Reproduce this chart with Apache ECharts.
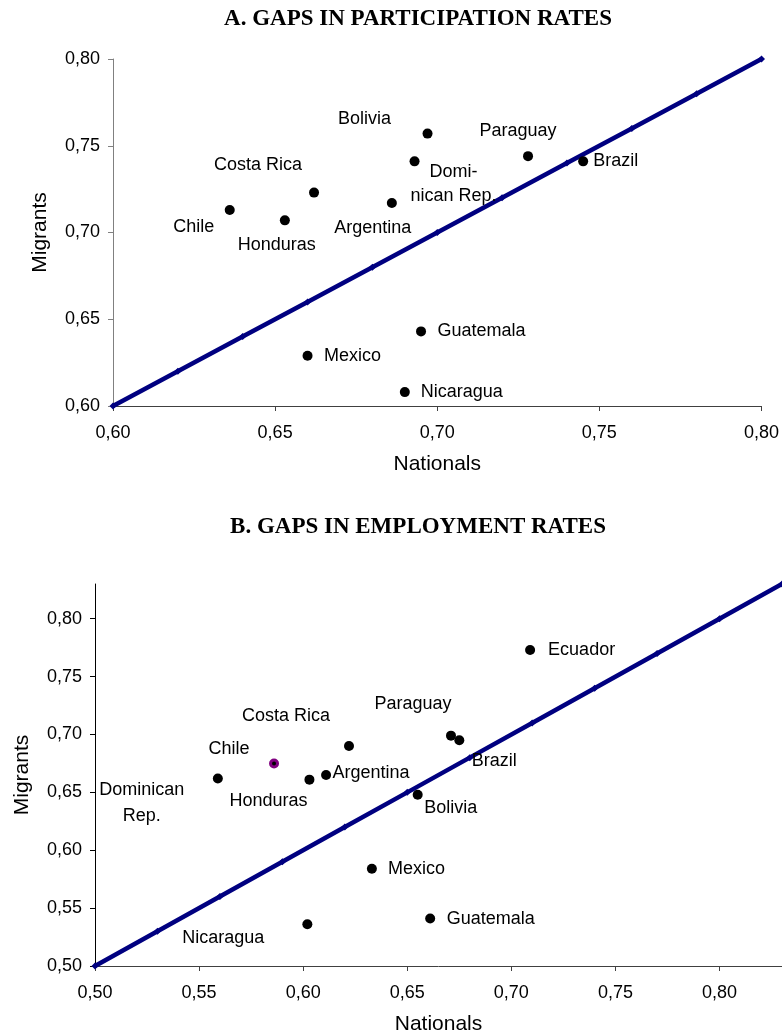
<!DOCTYPE html>
<html><head><meta charset="utf-8">
<script src="https://cdn.jsdelivr.net/npm/echarts@6/dist/echarts.min.js"></script>
<style>html,body{margin:0;padding:0;background:#fff;overflow:hidden}#c{width:782px;height:1036px}</style>
</head><body><div id="c"></div>
<script>
// ---------- Panel A data ----------
const titleA = 'A. GAPS IN PARTICIPATION RATES';
const countriesA = ['Bolivia','Dominican Rep.','Paraguay','Brazil','Costa Rica','Argentina','Chile','Honduras','Guatemala','Mexico','Nicaragua'];
const labelsA    = ['Bolivia','Domi-\nnican Rep.','Paraguay','Brazil','Costa Rica','Argentina','Chile','Honduras','Guatemala','Mexico','Nicaragua'];
const nationalsA = [0.697,0.693,0.728,0.745,0.662,0.686,0.636,0.653,0.695,0.660,0.690];
const migrantsA  = [0.757,0.741,0.744,0.741,0.723,0.717,0.713,0.707,0.643,0.629,0.608];
const diagonalA  = [0.60,0.62,0.64,0.66,0.68,0.70,0.72,0.74,0.76,0.78,0.80];
const ticksA     = [0.60,0.65,0.70,0.75,0.80];

// ---------- Panel B data ----------
const titleB = 'B. GAPS IN EMPLOYMENT RATES';
const countriesB = ['Ecuador','Paraguay','Brazil','Costa Rica','Chile','Argentina','Honduras','Dominican Rep.','Bolivia','Mexico','Guatemala','Nicaragua'];
const labelsB    = ['Ecuador','Paraguay','Brazil','Costa Rica','Chile','Argentina','Honduras','Dominican\nRep.','Bolivia','Mexico','Guatemala','Nicaragua'];
const nationalsB = [0.709,0.671,0.675,0.622,0.586,0.611,0.603,0.559,0.655,0.633,0.661,0.602];
const migrantsB  = [0.773,0.699,0.695,0.690,0.675,0.665,0.661,0.662,0.648,0.584,0.541,0.536];
const diagonalB  = [0.50,0.53,0.56,0.59,0.62,0.65,0.68,0.71,0.74,0.77,0.80,0.83];
const ticksB     = [0.50,0.55,0.60,0.65,0.70,0.75,0.80];

const xName = 'Nationals';
const yName = 'Migrants';

// ---------- label placement (style only) ----------
const placeA = {
  'Bolivia':        {offset:[-63,-15]},
  'Dominican Rep.': {offset:[39,23], lineHeight:24},
  'Paraguay':       {offset:[-10,-25]},
  'Brazil':         {right:5},
  'Costa Rica':     {offset:[-56,-28]},
  'Argentina':      {offset:[-19,25]},
  'Chile':          {offset:[-36,17]},
  'Honduras':       {offset:[-8,25]},
  'Guatemala':      {right:11.5},
  'Mexico':         {right:11.5},
  'Nicaragua':      {right:11}
};
const placeB = {
  'Ecuador':        {right:13},
  'Paraguay':       {offset:[-38,-32]},
  'Brazil':         {offset:[35,21]},
  'Costa Rica':     {offset:[-63,-30]},
  'Chile':          {offset:[-45,-14]},
  'Argentina':      {offset:[45,-2]},
  'Honduras':       {offset:[-41,21]},
  'Dominican Rep.': {offset:[-76,25], lineHeight:26},
  'Bolivia':        {offset:[33,13]},
  'Mexico':         {right:11},
  'Guatemala':      {right:11.5},
  'Nicaragua':      {offset:[-84,14]}
};
const specialB = {'Chile': {color:'#000000', borderColor:'#800080', borderWidth:3, opacity:1}};

const FONT = '"Liberation Sans", Arial, sans-serif';
const fmt = v => v.toFixed(2).replace('.', ',');

function buildPoints(names, labels, xs, ys, place, special) {
  return names.map((n, i) => {
    const p = place[n] || {};
    const lab = {
      show: true,
      formatter: labels[i],
      fontSize: 18, fontFamily: FONT, color: '#000000', opacity: 1,
      textBorderWidth: 0,
      lineHeight: p.lineHeight || 20
    };
    if (p.right !== undefined) {
      lab.position = 'right'; lab.distance = p.right;
    } else {
      lab.position = 'inside'; lab.offset = p.offset;
      lab.align = 'center'; lab.verticalAlign = 'middle';
    }
    const d = {name: n, value: [xs[i], ys[i]], label: lab};
    if (special && special[n]) { d.itemStyle = special[n]; d.symbolSize = 7; }
    return d;
  });
}

function axisCommon(lineColor) {
  return {
    type: 'value',
    splitLine: {show: false},
    axisLine: {show: true, onZero: false, lineStyle: {color: lineColor, width: 1}},
    axisTick: {show: true, inside: false, length: 5, lineStyle: {color: lineColor}},
    axisLabel: {fontSize: 18, fontFamily: FONT, color: '#000', formatter: fmt},
    nameLocation: 'middle',
    nameTextStyle: {fontSize: 21, fontFamily: FONT, color: '#000'}
  };
}

const chart = echarts.init(document.getElementById('c'), null, {renderer: 'canvas'});

const xA = axisCommon('#404040');
Object.assign(xA, {gridIndex: 0, min: 0.60, max: 0.80, interval: 0.05, name: xName, nameGap: 48});
xA.axisLabel.margin = 18;
xA.axisLabel.customValues = ticksA; xA.axisTick.customValues = ticksA;
const yA = axisCommon('#808080');
Object.assign(yA, {gridIndex: 0, min: 0.60, max: 0.80, interval: 0.05, name: yName, nameGap: 62});
yA.axisLabel.margin = 13;
yA.axisLabel.customValues = ticksA; yA.axisTick.customValues = ticksA;

const xB = axisCommon('#404040');
Object.assign(xB, {gridIndex: 1, min: 0.50, max: 0.83, interval: 0.05, name: xName, nameGap: 48});
xB.axisLabel.margin = 18;
xB.axisLabel.customValues = ticksB; xB.axisTick.customValues = ticksB;
const yB = axisCommon('#000000');
Object.assign(yB, {gridIndex: 1, min: 0.50, max: 0.83, interval: 0.05, name: yName, nameGap: 62});
yB.axisLabel.margin = 13;
yB.axisLabel.customValues = ticksB; yB.axisTick.customValues = ticksB;

const lineStyle = {color: '#000080', width: 4.5};

chart.setOption({
  animation: false,
  backgroundColor: '#ffffff',
  graphic: [
    {type: 'text', x: 418, y: 19, style: {text: titleA, align: 'center', verticalAlign: 'middle',
      fontSize: 23, fontWeight: 'bold', fontFamily: '"Liberation Serif", "Times New Roman", serif', fill: '#000'}},
    {type: 'text', x: 418, y: 527, style: {text: titleB, align: 'center', verticalAlign: 'middle',
      fontSize: 23, fontWeight: 'bold', fontFamily: '"Liberation Serif", "Times New Roman", serif', fill: '#000'}}
  ],
  grid: [
    {left: 113, top: 59, width: 649, height: 347},
    {left: 95, top: 584, width: 690, height: 383}
  ],
  xAxis: [xA, xB],
  yAxis: [yA, yB],
  series: [
    {type: 'line', xAxisIndex: 0, yAxisIndex: 0, clip: false,
     data: diagonalA.map(v => [v, v]), symbol: 'diamond', symbolSize: 7, showSymbol: true,
     itemStyle: {color: '#000080'}, lineStyle: lineStyle, z: 2},
    {type: 'scatter', xAxisIndex: 0, yAxisIndex: 0, symbol: 'circle', symbolSize: 10,
     itemStyle: {color: '#000000', opacity: 1}, z: 3,
     data: buildPoints(countriesA, labelsA, nationalsA, migrantsA, placeA)},
    {type: 'line', xAxisIndex: 1, yAxisIndex: 1, clip: false,
     data: diagonalB.map(v => [v, v]), symbol: 'diamond', symbolSize: 7, showSymbol: true,
     itemStyle: {color: '#000080'}, lineStyle: lineStyle, z: 2},
    {type: 'scatter', xAxisIndex: 1, yAxisIndex: 1, symbol: 'circle', symbolSize: 10,
     itemStyle: {color: '#000000', opacity: 1}, z: 3,
     data: buildPoints(countriesB, labelsB, nationalsB, migrantsB, placeB, specialB)}
  ]
});
</script>
</body></html>
